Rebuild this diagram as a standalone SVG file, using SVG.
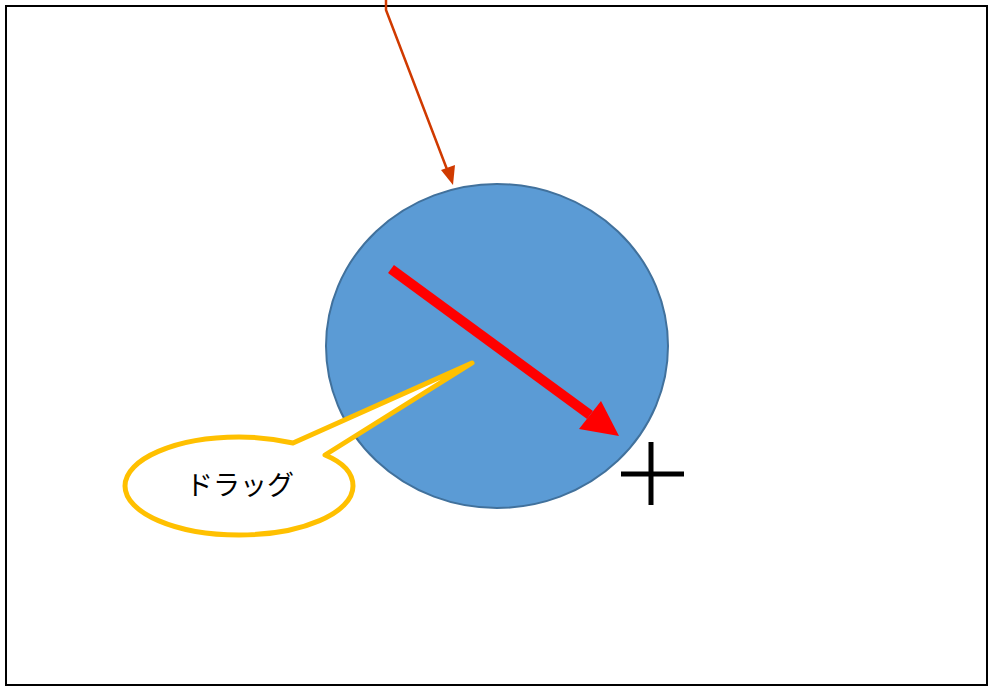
<svg xmlns="http://www.w3.org/2000/svg" width="989" height="686" viewBox="0 0 989 686">
<style>
.lbl{font-family:"Noto Sans CJK JP","Liberation Sans",sans-serif;font-size:27px;fill:#000}
</style>
<rect x="0" y="0" width="989" height="686" fill="#fff"/>
<rect x="6" y="6" width="981" height="679" fill="none" stroke="#000" stroke-width="2"/>
<g id="circle"><ellipse cx="497" cy="346" rx="171" ry="162" fill="#5B9BD5" stroke="#41719C" stroke-width="2"/></g>
<g id="connectors">
<path d="M386,0 L386,10 L448,172" fill="none" stroke="#D03A00" stroke-width="2.5"/>
<path d="M453,185 L441,170 L455,165 Z" fill="#D03A00"/>
<line x1="391" y1="269" x2="590" y2="415" stroke="#FF0000" stroke-width="10"/>
<path d="M619,436 L579,429 L601,401 Z" fill="#FF0000"/>
</g>
<g id="callout">
<path d="M293,443 C270,438 255,437 239,437 C176,437 125,459 125,486 C125,513 176,535 239,535 C302,535 353,513 353,486 C353,472 342,462 325,455 L472,363 Z" fill="#fff" stroke="#FFC000" stroke-width="5" stroke-linejoin="round"/>
<text class="lbl" x="240" y="495" text-anchor="middle">ドラッグ</text>
</g>
<g id="cursor" stroke="#000" stroke-width="5">
<line x1="621" y1="474" x2="684" y2="474"/>
<line x1="651" y1="442" x2="651" y2="505"/>
</g>
</svg>
